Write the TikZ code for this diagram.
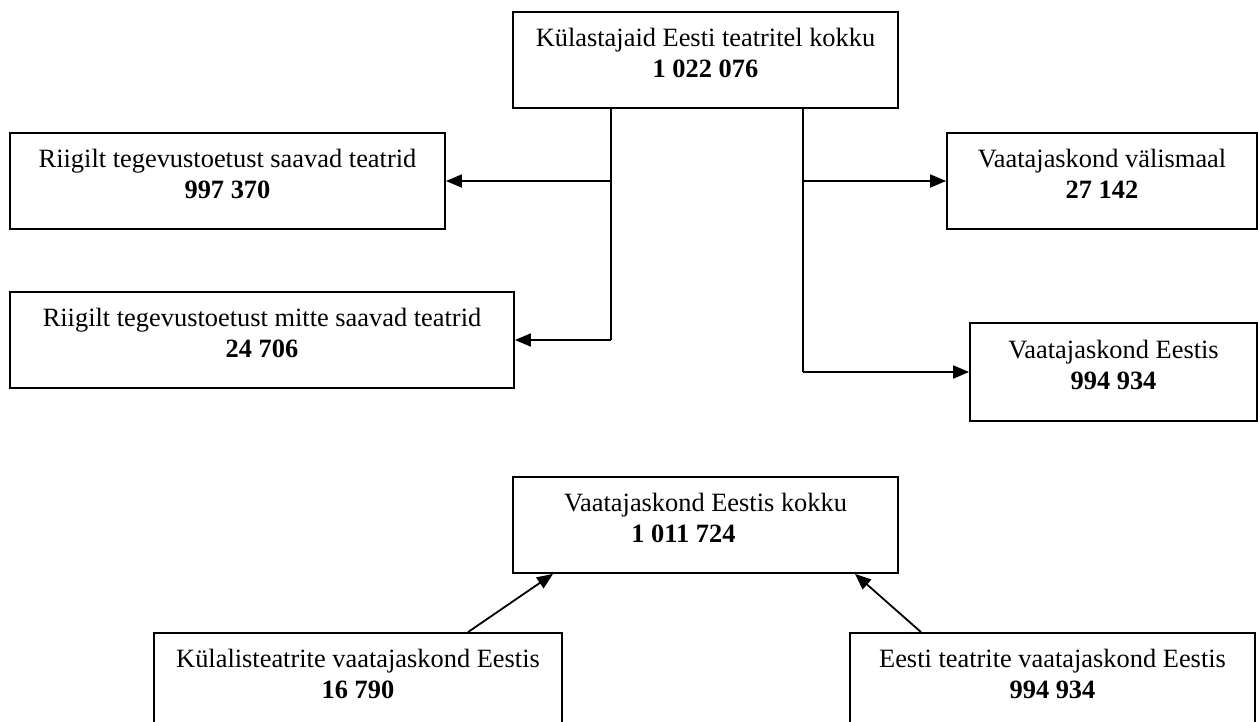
\documentclass[tikz,border=0pt]{standalone}
\usepackage{fontspec}
\setmainfont{Liberation Serif}
\usetikzlibrary{arrows.meta}
\newcommand\twol[2]{\raisebox{2pt}[\height][\depth]{\begin{tabular}{@{}c@{}}#1\\\textbf{#2}\end{tabular}}}
\begin{document}
\begin{tikzpicture}[x=0.5pt,y=-0.5pt,
  box/.style={draw, line width=0.9pt, inner sep=0pt, font=\fontsize{13.2}{15.5}\selectfont},
  conn/.style={line width=0.9pt},
  arr/.style={conn, -{Triangle[length=8pt,width=6.5pt]}}]
\useasboundingbox (0,0) rectangle (1258,722);
\node[box, minimum width=192.5pt, minimum height=48pt] (top) at (705.5,60) {\twol{Külastajaid Eesti teatritel kokku}{1 022 076}};
\node[box, minimum width=217.5pt, minimum height=48pt] (L1) at (227.5,181) {\twol{Riigilt tegevustoetust saavad teatrid}{997 370}};
\node[box, minimum width=252pt, minimum height=48pt] (L2) at (262,340) {\twol{Riigilt tegevustoetust mitte saavad teatrid}{24 706}};
\node[box, minimum width=155pt, minimum height=48pt] (R1) at (1102,181) {\twol{Vaatajaskond välismaal}{27 142}};
\node[box, minimum width=143.5pt, minimum height=49pt] (R2) at (1113.5,372) {\twol{Vaatajaskond Eestis}{994 934}};
\node[box, minimum width=192.5pt, minimum height=48pt] (mid) at (705.5,525) {\twol{Vaatajaskond Eestis kokku}{1 011 724\hspace*{22pt}}};
\node[box, minimum width=204pt, minimum height=48pt] (BL) at (358,681) {\twol{Külalisteatrite vaatajaskond Eestis}{16 790}};
\node[box, minimum width=202.5pt, minimum height=48pt] (BR) at (1052.5,681) {\twol{Eesti teatrite vaatajaskond Eestis}{994 934}};
\coordinate (jl) at (611,0);
\coordinate (jr) at (803,0);
\draw[conn] (top.south -| jl) -- (jl |- L2.east);
\draw[arr] (jl |- L2.east) -- (L2.east);
\draw[arr] (jl |- L1.east) -- (L1.east);
\draw[conn] (top.south -| jr) -- (jr |- R2.west);
\draw[arr] (jr |- R2.west) -- (R2.west);
\draw[arr] (jr |- R1.west) -- (R1.west);
\coordinate (bl) at (468,0);
\coordinate (br) at (921,0);
\coordinate (tl) at (553,0);
\coordinate (tr) at (855,0);
\draw[arr] (BL.north -| bl) -- (mid.south -| tl);
\draw[arr] (BR.north -| br) -- (mid.south -| tr);
\end{tikzpicture}
\end{document}
